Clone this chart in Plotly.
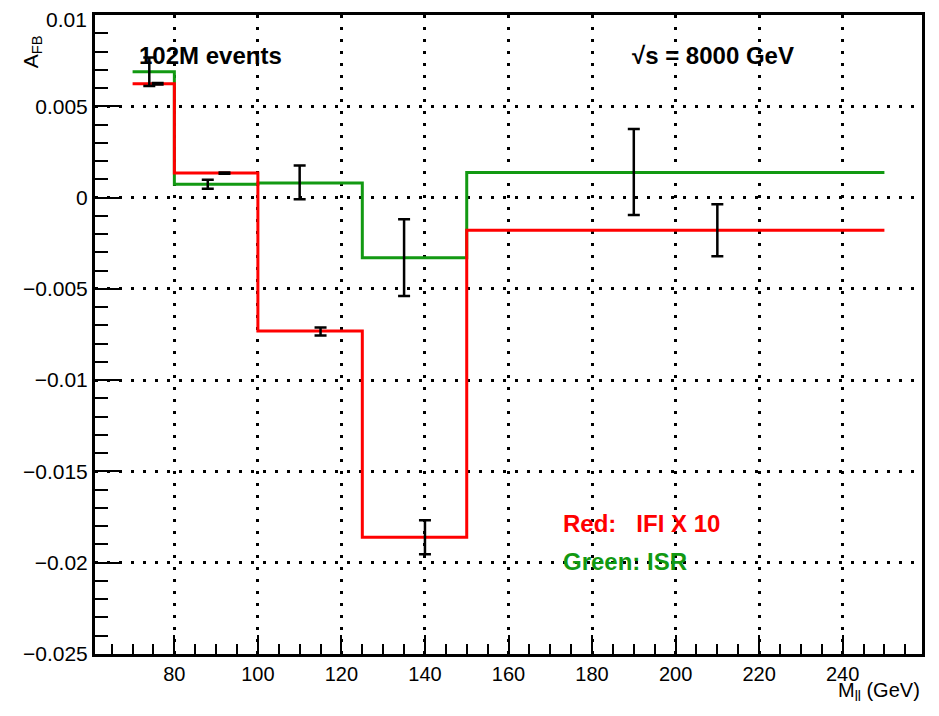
import plotly.graph_objects as go

# ---- data ----
edges = [70, 80, 100, 125, 150, 250]
ifi_x10 = [0.00623, 0.00134, -0.00731, -0.0186, -0.00179]
isr = [0.00689, 0.00073, 0.00080, -0.00330, 0.00138]

isr_pts_x = [74, 88, 110, 135, 190]
isr_pts_y = [0.00689, 0.00073, 0.00083, -0.00329, 0.00140]
isr_err = [0.00078, 0.00025, 0.00092, 0.00210, 0.00236]

ifi_pts_x = [76, 92, 115, 140, 210]
ifi_pts_y = [0.00623, 0.00134, -0.00733, -0.0186, -0.00179]
ifi_err = [0.00004, 0.00004, 0.00022, 0.00093, 0.00142]

ytick_vals = [-0.025, -0.02, -0.015, -0.01, -0.005, 0, 0.005, 0.01]
ytick_text = ["\u22120.025", "\u22120.02", "\u22120.015", "\u22120.01", "\u22120.005", "0", "0.005", ""]
top_tick_label = "0.01"
xtick_vals = [80, 100, 120, 140, 160, 180, 200, 220, 240]

RED = "#ff0000"
GREEN = "#129912"
FONT = "Liberation Sans, Arial, sans-serif"

fig = go.Figure()

fig.add_trace(go.Scatter(
    x=edges, y=isr + [isr[-1]], mode="lines", line=dict(shape="hv", color=GREEN, width=3),
    showlegend=False, hoverinfo="skip"))
fig.add_trace(go.Scatter(
    x=edges, y=ifi_x10 + [ifi_x10[-1]], mode="lines", line=dict(shape="hv", color=RED, width=3),
    showlegend=False, hoverinfo="skip"))

for px, py, pe in [(isr_pts_x, isr_pts_y, isr_err), (ifi_pts_x, ifi_pts_y, ifi_err)]:
    fig.add_trace(go.Scatter(
        x=px, y=py, mode="markers", marker=dict(size=1, color="black", opacity=0),
        error_y=dict(type="data", array=pe, visible=True, color="black", thickness=2.5, width=6),
        showlegend=False))

grid = dict(showgrid=True, gridcolor="black", griddash="3px,9px", gridwidth=2.5)

fig.update_xaxes(
    range=[61, 259], tickvals=xtick_vals, ticks="inside", ticklen=19, tickwidth=2, tickcolor="black",
    minor=dict(dtick=5, tick0=0, ticks="inside", ticklen=10, tickwidth=2, tickcolor="black", showgrid=False),
    showline=True, linecolor="black", linewidth=3, mirror=True, zeroline=False,
    ticklabeloverflow="allow",
    tickfont=dict(family=FONT, size=20, color="black"), **grid)
fig.update_yaxes(
    range=[-0.025, 0.01], tickvals=ytick_vals, ticktext=ytick_text, ticks="inside", ticklen=25,
    tickwidth=2, tickcolor="black",
    minor=dict(dtick=0.001, tick0=0, ticks="inside", ticklen=13, tickwidth=2, tickcolor="black", showgrid=False),
    showline=True, linecolor="black", linewidth=3, mirror=True, zeroline=False,
    ticklabeloverflow="allow",
    tickfont=dict(family=FONT, size=21, color="black"), **grid)

annos = [
    dict(text="<b>102M events</b>", x=0.051, y=0.937, xanchor="left", yanchor="middle",
         font=dict(size=24, color="black")),
    dict(text="<b>\u221as = 8000 GeV</b>", x=0.647, y=0.937, xanchor="left", yanchor="middle",
         font=dict(size=24, color="black")),
    dict(text="<b>Red:\u00a0\u00a0\u00a0IFI X 10</b>", x=0.563, y=0.205, xanchor="left", yanchor="middle",
         font=dict(size=24, color=RED)),
    dict(text="<b>Green: ISR</b>", x=0.563, y=0.144, xanchor="left", yanchor="middle",
         font=dict(size=24, color=GREEN)),
    dict(text=top_tick_label, x=-0.0075, y=0.9937, xanchor="right", yanchor="middle",
         font=dict(size=21, color="black")),
    dict(text="A<sub>FB</sub>", x=-0.076, y=0.942, xanchor="center", yanchor="middle", textangle=-90,
         font=dict(size=21, color="black")),
    dict(text="M<sub>ll</sub> (GeV)", x=1.0, y=-0.059, xanchor="right", yanchor="middle",
         font=dict(size=20, color="black")),
]
for a in annos:
    a.update(xref="paper", yref="paper", showarrow=False)
    a["font"]["family"] = FONT
fig.update_layout(annotations=annos)

# page body has an 8px margin; plot area targeted at x 95..922, y 15..654 in the window
fig.update_layout(
    width=923, height=700, margin=dict(l=87, r=9, t=7, b=54, autoexpand=False),
    paper_bgcolor="white", plot_bgcolor="white", font=dict(family=FONT),
)

fig.write_html("out.html")
